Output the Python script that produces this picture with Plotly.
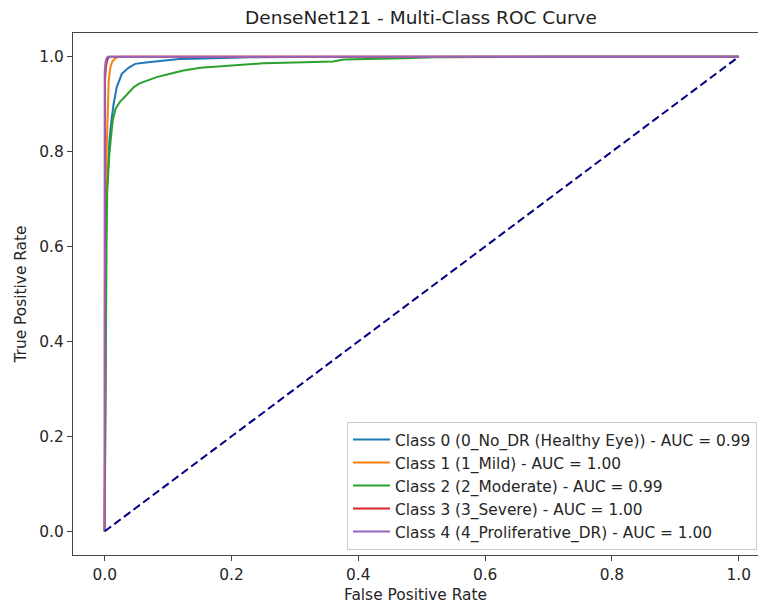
import plotly.graph_objects as go

# ---- data ----
class_names = [
    "Class 0 (0_No_DR (Healthy Eye)) - AUC = 0.99",
    "Class 1 (1_Mild) - AUC = 1.00",
    "Class 2 (2_Moderate) - AUC = 0.99",
    "Class 3 (3_Severe) - AUC = 1.00",
    "Class 4 (4_Proliferative_DR) - AUC = 1.00",
]

fpr0 = [0, 0.001, 0.002, 0.003, 0.0047, 0.0052, 0.0074, 0.0105, 0.014, 0.019, 0.027,
        0.037, 0.048, 0.065, 0.082, 0.1, 0.118, 0.14, 0.165, 0.19, 0.23, 0.3, 0.45, 0.75, 1]
tpr0 = [0, 0.4, 0.6, 0.7, 0.74, 0.774, 0.823, 0.865, 0.90, 0.936, 0.964,
        0.976, 0.985, 0.988, 0.99, 0.993, 0.995, 0.996, 0.997, 0.998, 0.999, 0.9995, 0.9998, 1, 1]

fpr1 = [0, 0.001, 0.002, 0.003, 0.004, 0.0047, 0.0063, 0.009, 0.012, 0.017, 0.022, 1]
tpr1 = [0, 0.5, 0.7, 0.8, 0.865, 0.915, 0.95, 0.978, 0.99, 0.997, 1, 1]

fpr2 = [0, 0.001, 0.002, 0.003, 0.004, 0.0052, 0.0074, 0.0099, 0.0126, 0.017, 0.024, 0.03,
        0.038, 0.046, 0.055, 0.068, 0.082, 0.1, 0.124, 0.151, 0.2, 0.25, 0.3, 0.36, 0.377,
        0.42, 0.47, 0.52, 0.6, 0.7, 1]
tpr2 = [0, 0.3, 0.5, 0.62, 0.72, 0.76, 0.795, 0.83, 0.865, 0.89, 0.905, 0.913,
        0.925, 0.936, 0.944, 0.951, 0.957, 0.963, 0.971, 0.977, 0.982, 0.986, 0.988, 0.990, 0.994,
        0.995, 0.997, 0.999, 0.9995, 1, 1]

fpr3 = [0, 0.0005, 0.002, 0.004, 0.007, 1]
tpr3 = [0, 0.95, 0.98, 0.993, 1, 1]

fpr4 = [0, 0, 0.0015, 0.003, 0.005, 1]
tpr4 = [0, 0.97, 0.99, 0.997, 1, 1]

diag_x = [0, 1]
diag_y = [0, 1]

tick_vals = [0.0, 0.2, 0.4, 0.6, 0.8, 1.0]
tick_text = ["0.0", "0.2", "0.4", "0.6", "0.8", "1.0"]

colors = ["#1f77b4", "#ff7f0e", "#2ca02c", "#d62728", "#9467bd"]

series = [(fpr0, tpr0), (fpr1, tpr1), (fpr2, tpr2), (fpr3, tpr3), (fpr4, tpr4)]

FONT = "DejaVu Sans"
fig = go.Figure()
for (fx, ty), name, c in zip(series, class_names, colors):
    fig.add_trace(go.Scatter(x=fx, y=ty, mode="lines", name=name,
                             line=dict(color=c, width=2)))
fig.add_trace(go.Scatter(x=diag_x, y=diag_y, mode="lines", showlegend=False,
                         line=dict(color="#000080", width=2, dash="8px,4px")))

axis_common = dict(
    showgrid=False, zeroline=False, showline=True, linecolor="#444", linewidth=1.2,
    ticks="outside", ticklen=5, tickcolor="#444", tickwidth=1.2, automargin=False,
    tickfont=dict(family=FONT, size=15.4, color="#262626"),
    tickvals=tick_vals, ticktext=tick_text,
)

fig.update_layout(
    width=758, height=604,
    margin=dict(l=73, r=0, t=33, b=49),
    paper_bgcolor="white", plot_bgcolor="white",
    font=dict(family=FONT, size=15.4, color="#262626"),
    title=dict(text="DenseNet121 - Multi-Class ROC Curve", x=421/758, xref="container",
               xanchor="center", y=1 - 18/604, yref="container", yanchor="middle",
               font=dict(family=FONT, size=18.5, color="#222222")),
    xaxis=dict(range=[-0.05, 1.0304], mirror=True,
               title=dict(text="False Positive Rate", standoff=6,
                          font=dict(family=FONT, size=15.4, color="#262626")),
               **axis_common),
    yaxis=dict(range=[-0.05, 1.05],
               title=dict(text="True Positive Rate", standoff=8,
                          font=dict(family=FONT, size=15.4, color="#262626")),
               **axis_common),
    legend=dict(x=(347 - 73) / 685, y=(555 - 422) / 522, xanchor="left", yanchor="top",
                itemwidth=37,
                bgcolor="rgba(255,255,255,0.8)", bordercolor="#cccccc", borderwidth=1,
                font=dict(family=FONT, size=15.4, color="#262626")),
    showlegend=True,
)

fig.write_html("out.html", config={"displayModeBar": False},
               post_script="document.body.style.margin='0';document.body.style.overflow='hidden';")
